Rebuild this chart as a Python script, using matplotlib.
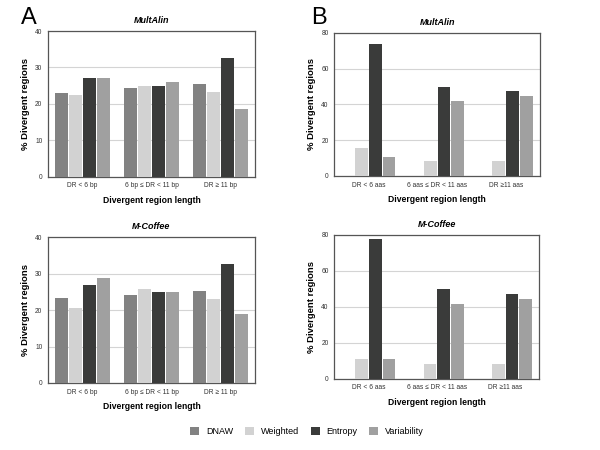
import numpy as np
import matplotlib
matplotlib.use("Agg")
import matplotlib.pyplot as plt
from matplotlib.patches import Patch

plt.rcParams['font.family'] = ['Liberation Sans', 'DejaVu Sans']

series = ["DNAW", "Weighted", "Entropy", "Variability"]
colors = ["#828282", "#d2d2d2", "#3a3b3a", "#a0a0a0"]

cats_bp = ["DR < 6 bp", "6 bp ≤ DR < 11 bp", "DR ≥ 11 bp"]
cats_aa = ["DR < 6 aas", "6 aas ≤ DR < 11 aas", "DR ≥11 aas"]

# panel A (DNA), rows = series, cols = categories
multalin_bp = [[23.0, 24.3, 25.4],
               [22.4, 24.8, 23.3],
               [27.2, 24.8, 32.7],
               [27.2, 26.0, 18.5]]
mcoffee_bp = [[23.2, 24.2, 25.2],
              [20.6, 25.8, 23.0],
              [27.0, 24.9, 32.7],
              [28.9, 24.9, 19.0]]
# panel B (protein)
multalin_aa = [[0.0, 0.0, 0.0],
               [15.7, 8.2, 8.2],
               [73.8, 50.0, 47.3],
               [10.6, 41.7, 44.5]]
mcoffee_aa = [[0.0, 0.0, 0.0],
              [11.0, 8.2, 8.2],
              [77.7, 49.9, 47.3],
              [11.2, 41.6, 44.5]]

fig = plt.figure(figsize=(6, 4.5), dpi=100)


def panel(rect, data, cats, ymax, title):
    ax = fig.add_axes(rect)
    x = np.arange(len(cats))
    w = 0.2
    for i, vals in enumerate(data):
        ax.bar(x + (i - 1.5) * w, vals, width=w * 0.93, color=colors[i], zorder=3)
    ax.set_xlim(-0.5, len(cats) - 0.5)
    ax.set_ylim(0, ymax)
    ax.set_yticks(np.linspace(0, ymax, 5))
    ax.set_xticks(x)
    ax.set_xticklabels(cats)
    ax.tick_params(length=0, labelsize=4.8, colors="#333333", pad=4)
    ax.yaxis.grid(True, color="#d4d4d4", linewidth=0.8, zorder=0)
    for s in ax.spines.values():
        s.set_color("#555555")
        s.set_linewidth(0.9)
    ax.set_ylabel("% Divergent regions", fontsize=6.8, fontweight="bold", labelpad=4)
    ax.set_xlabel("Divergent region length", fontsize=6.2, fontweight="bold", labelpad=5)
    ax.set_title(title, fontsize=6.5, fontweight="bold", style="italic", pad=6)
    return ax


panel([0.08, 0.607, 0.345, 0.324], multalin_bp, cats_bp, 40, "MultAlin")
panel([0.557, 0.609, 0.343, 0.318], multalin_aa, cats_aa, 80, "MultAlin")
panel([0.08, 0.149, 0.345, 0.324], mcoffee_bp, cats_bp, 40, "M-Coffee")
panel([0.557, 0.158, 0.342, 0.320], mcoffee_aa, cats_aa, 80, "M-Coffee")

fig.text(0.035, 0.961, "A", fontsize=17, va="center", ha="left")
fig.text(0.518, 0.961, "B", fontsize=17, va="center", ha="left")

handles = [Patch(facecolor=c, edgecolor="none") for c in colors]
fig.legend(handles, series, loc="center", bbox_to_anchor=(0.512, 0.042), ncol=4,
           frameon=False, fontsize=6.5, handlelength=1.0, handleheight=1.0,
           handletextpad=0.75, columnspacing=1.3)

fig.savefig("out.png", dpi=100)
